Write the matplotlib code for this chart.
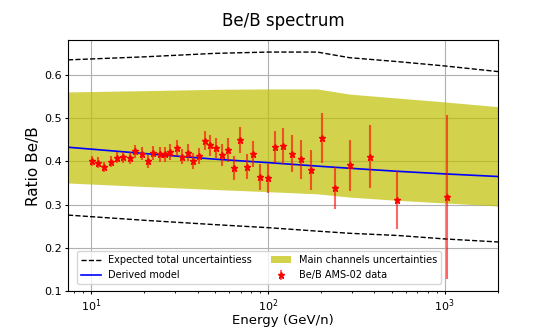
import numpy as np
import matplotlib
matplotlib.use('Agg')
import matplotlib.pyplot as plt

# AMS-02 Be/B data
energy = [10.1, 11.0, 11.9, 13.0, 14.0, 15.2, 16.5, 17.8, 19.4, 20.9,
          22.5, 24.4, 26.2, 28.1, 30.4, 32.8, 35.1, 37.9, 40.9, 43.8,
          47.2, 51.0, 55.0, 59.3, 64.0, 69.8, 76.0, 82.6, 90.6, 99.7,
          110.0, 121.8, 137.0, 154.0, 176.0, 203.0, 239.0, 292.0, 380.0,
          534.0, 1035.0]
ratio = [0.401, 0.397, 0.387, 0.399, 0.408, 0.409, 0.407, 0.423, 0.417, 0.400,
         0.420, 0.416, 0.416, 0.422, 0.431, 0.411, 0.420, 0.401, 0.412, 0.448,
         0.437, 0.430, 0.414, 0.426, 0.384, 0.450, 0.388, 0.416, 0.363, 0.361,
         0.432, 0.435, 0.418, 0.405, 0.380, 0.454, 0.339, 0.391, 0.411,
         0.311, 0.317]
ratio_err = [0.012, 0.012, 0.012, 0.013, 0.013, 0.013, 0.014, 0.015, 0.015, 0.015,
             0.016, 0.017, 0.017, 0.018, 0.019, 0.018, 0.019, 0.019, 0.019, 0.023,
             0.024, 0.023, 0.025, 0.027, 0.028, 0.030, 0.028, 0.030, 0.030, 0.033,
             0.037, 0.042, 0.043, 0.045, 0.047, 0.058, 0.049, 0.059, 0.073,
             0.067, 0.189]

# derived model and uncertainty curves
e_model = [7.4, 20, 50, 100, 190, 290, 540, 1000, 2000]
model = [0.4325, 0.418, 0.405, 0.397, 0.389, 0.384, 0.377, 0.371, 0.365]
band_low = [0.350, 0.342, 0.335, 0.330, 0.325, 0.3175, 0.310, 0.304, 0.297]
band_high = [0.560, 0.563, 0.566, 0.567, 0.567, 0.555, 0.546, 0.537, 0.526]
tot_low = [0.276, 0.264, 0.254, 0.247, 0.239, 0.234, 0.229, 0.221, 0.214]
tot_high = [0.634, 0.641, 0.649, 0.652, 0.652, 0.639, 0.630, 0.620, 0.607]

fig = plt.figure(figsize=(5.53, 3.3), dpi=100)
ax = fig.add_axes([0.123, 0.117, 0.7775, 0.762])

ax.fill_between(e_model, band_low, band_high, color='y', alpha=0.7, lw=0,
                label='Main channels uncertainties')
ax.plot(e_model, tot_low, 'k--', lw=1, label='Expected total uncertaintiess')
ax.plot(e_model, tot_high, 'k--', lw=1)
ax.plot(e_model, model, color='blue', lw=1.2, label='Derived model')
ax.errorbar(energy, ratio, yerr=ratio_err, fmt='*', color='red', ms=5,
            ecolor=(1, 0, 0, 0.6), elinewidth=1.5, label='Be/B AMS-02 data')

ax.set_xscale('log')
ax.set_xlim(7.4, 2000)
ax.set_ylim(0.1, 0.68)
ax.set_yticks([0.1, 0.2, 0.3, 0.4, 0.5, 0.6])
ax.grid(True, color='#b0b0b0', lw=0.8)
ax.set_axisbelow(True)

ax.set_title('Be/B spectrum', fontsize=12, pad=10)
ax.set_xlabel('Energy (GeV/n)', fontsize=9.5, labelpad=0)
ax.set_ylabel('Ratio Be/B', fontsize=11, labelpad=2)
ax.tick_params(labelsize=8, length=2.5, pad=2)
ax.tick_params(which='minor', length=1.5)

h, l = ax.get_legend_handles_labels()
order = [l.index('Expected total uncertaintiess'), l.index('Derived model'),
         l.index('Main channels uncertainties'), l.index('Be/B AMS-02 data')]
ax.legend([h[i] for i in order], [l[i] for i in order], ncol=2, fontsize=7,
          loc='lower left', bbox_to_anchor=(0.01, 0.01))

fig.savefig('out.png', dpi=100)
